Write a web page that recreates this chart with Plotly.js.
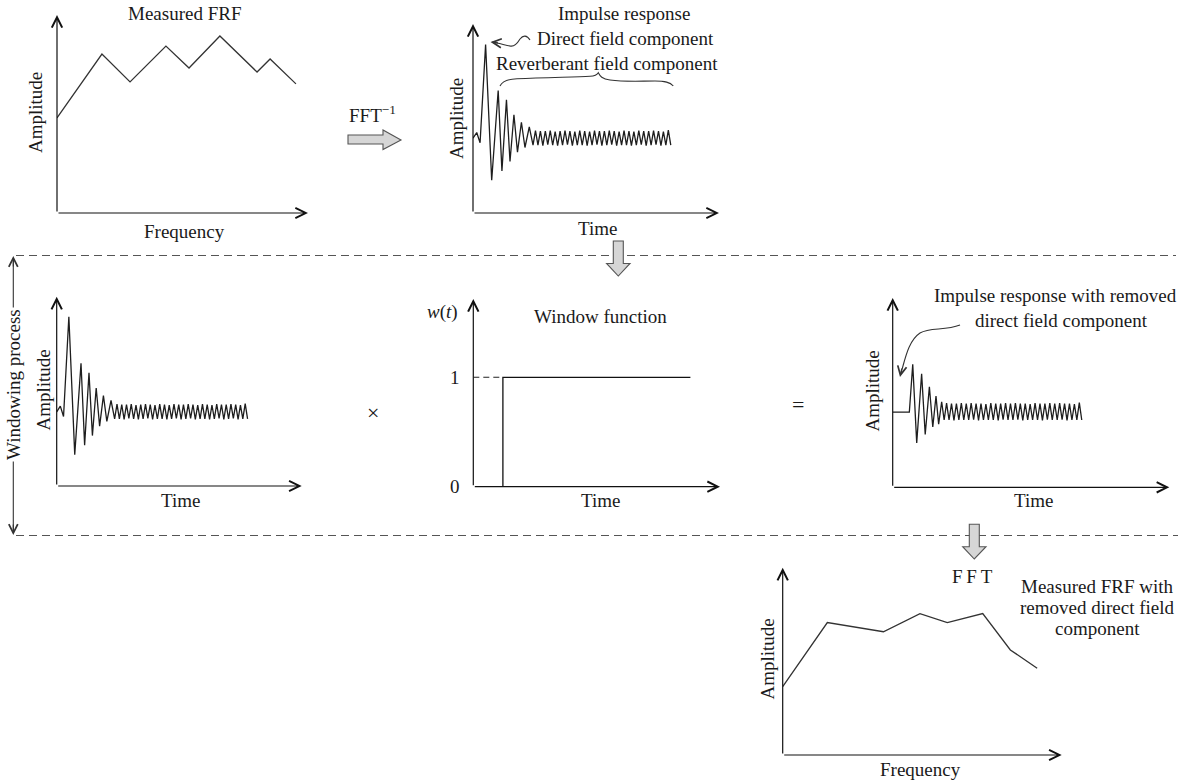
<!DOCTYPE html>
<html>
<head>
<meta charset="utf-8">
<script src="https://cdn.plot.ly/plotly-3.0.1.min.js"></script>
<style>html,body{margin:0;padding:0;background:#fff;}#chart{width:1183px;height:780px;}</style>
</head>
<body>
<div id="chart"></div>
<script>
// ---------- DATA ----------
// Panel 1: measured FRF
const frfFreq = [0, 17.9, 29.1, 43.4, 52.6, 64.9, 79.7, 84.9, 95.2];
const frfAmp  = [48, 80.3, 66.2, 84.3, 73.2, 89.4, 71.2, 77.8, 65.2];

// Impulse response: direct part + early decay
const irTime = [0, 1.9, 3.6, 6.4, 9.5, 12.8, 14.7, 17.0, 18.8, 20.8, 22.6, 24.6, 26.4, 28.6, 30.5];
const irAmp  = [0, 0.6, -0.5, 10, -4.5, 5.1, -3.5, 4.1, -2.5, 2.5, -1.5, 1.7, -1.0, 1.2, -0.75];
// Reverberant tail
const tailTime = [31.75,33,34.25,35.5,36.75,38,39.25,40.5,41.75,43,
  44.25,45.5,46.75,48,49.25,50.5,51.75,53,54.25,55.5,
  56.75,58,59.25,60.5,61.75,63,64.25,65.5,66.75,68,
  69.25,70.5,71.75,73,74.25,75.5,76.75,78,79.25,80.5,
  81.75,83,84.25,85.5,86.75,88,89.25,90.5,91.75,93,
  94.25,95.5,96.75,98,99.25,100.5];
const tailAmp = [0.8,-0.75,0.75,-0.8,0.75,-0.7,0.8,-0.75,0.7,-0.8,
  0.75,-0.75,0.8,-0.7,0.75,-0.8,0.7,-0.75,0.8,-0.75,
  0.75,-0.8,0.7,-0.75,0.8,-0.7,0.75,-0.8,0.75,-0.75,
  0.8,-0.7,0.75,-0.8,0.7,-0.75,0.8,-0.75,0.75,-0.8,
  0.7,-0.75,0.8,-0.7,0.75,-0.8,0.75,-0.75,0.8,-0.7,
  0.75,-0.8,0.7,-0.75,0.85,-0.75];

// Window function
const winTime = [0, 15, 15, 110];
const winVal  = [0, 0, 1, 1];

// Impulse response with removed direct field component
const remTime = [0, 8.8, 10.6, 12.7, 15.3, 17.2, 19.4, 21.2, 22.9, 24.3, 25.9];
const remAmp  = [0, 0, 5.1, -3.3, 4.1, -2.4, 2.7, -1.6, 1.7, -1.3, 1.1];
const remTailTime = [27.2,28.5,29.8,31.1,32.4,33.7,35,36.3,37.6,38.9,
  40.2,41.5,42.8,44.1,45.4,46.7,48,49.3,50.6,51.9,
  53.2,54.5,55.8,57.1,58.4,59.7,61,62.3,63.6,64.9,
  66.2,67.5,68.8,70.1,71.4,72.7,74,75.3,76.6,77.9,
  79.2,80.5,81.8,83.1,84.4,85.7,87,88.3,89.6,90.9,
  92.2,93.5,94.8,96.1,97.4,98.7,100];
const remTailAmp = [-0.85,0.95,-0.85,0.9,-0.9,0.9,-0.85,0.95,-0.85,0.9,
  -0.85,0.95,-0.8,0.9,-0.9,0.9,-0.85,0.85,-0.85,0.95,
  -0.85,0.9,-0.9,0.9,-0.8,0.95,-0.85,0.9,-0.85,0.95,
  -0.8,0.9,-0.9,0.9,-0.85,0.85,-0.85,0.95,-0.85,0.9,
  -0.9,0.9,-0.8,0.95,-0.85,0.9,-0.85,0.95,-0.8,0.9,
  -0.9,0.9,-0.85,0.85,-0.85,1.0,-0.85];

// Panel 6: FRF with removed direct field component
const frf2Freq = [0, 16.0, 36.1, 49.2, 59.0, 71.7, 81.6, 91.2];
const frf2Amp  = [36.5, 70.7, 65.8, 75.5, 70.7, 75.5, 56.1, 46.3];

// ---------- LAYOUT HELPERS ----------
const W = 1183, H = 780;
const FONT = 'Liberation Serif, Times New Roman, serif';
const TXT = '#1a1a1a';
const X = px => px / W;
const Y = py => 1 - py / H;
const P = s => s.replace(/(-?[\d.]+),(-?[\d.]+)/g, (m, a, b) => X(+a).toFixed(5) + ',' + Y(+b).toFixed(5));

// panel boxes in pixels: [left, right, bottom, top], ranges
const panels = [
  {box:[57,308,213,15],      xr:[0,100],   yr:[0,100]},
  {box:[473,719,213,24],     xr:[0,125],   yr:[-8,12.2]},
  {box:[56.7,301.7,486,296.7], xr:[0,129], yr:[-7.8,12.1]},
  {box:[473.3,720,486.7,299], xr:[0,125],  yr:[0,1.716]},
  {box:[892.7,1169.3,487.3,298], xr:[0,146.3], yr:[-8.05,12.2]},
  {box:[782.7,1061.7,755,567.7], xr:[0,100], yr:[0,100]}
];

const layout = {
  width: W, height: H,
  margin: {l:0, r:0, t:0, b:0},
  paper_bgcolor: '#fff', plot_bgcolor: 'rgba(0,0,0,0)',
  showlegend: false,
  annotations: [], shapes: []
};

panels.forEach((p, i) => {
  const n = i + 1;
  const xk = n === 1 ? 'xaxis' : 'xaxis' + n;
  const yk = n === 1 ? 'yaxis' : 'yaxis' + n;
  const xid = n === 1 ? 'x' : 'x' + n;
  const yid = n === 1 ? 'y' : 'y' + n;
  layout[xk] = {domain:[X(p.box[0]), X(p.box[1])], range:p.xr, anchor:yid,
    showline:false, showgrid:false, zeroline:false, showticklabels:false, ticks:'', fixedrange:true};
  layout[yk] = {domain:[Y(p.box[2]), Y(p.box[3])], range:p.yr, anchor:xid,
    showline:false, showgrid:false, zeroline:false, showticklabels:false, ticks:'', fixedrange:true};
  // axes with arrowheads
  const base = {xref:xid, yref:yid, axref:xid, ayref:yid, text:'', showarrow:true,
    arrowhead:5, arrowsize:1.7, arrowwidth:1.2, arrowcolor:'#111'};
  layout.annotations.push(Object.assign({}, base, {x:p.xr[1], y:p.yr[0], ax:p.xr[0], ay:p.yr[0]}));
  layout.annotations.push(Object.assign({}, base, {x:p.xr[0], y:p.yr[1], ax:p.xr[0], ay:p.yr[0]}));
});

// window panel tick labels 0 and 1
Object.assign(layout.yaxis4, {showticklabels:true, tickvals:[0,1], ticktext:['0','1'],
  ticks:'outside', ticklen:9, tickcolor:'rgba(0,0,0,0)', tickfont:{family:FONT, size:19, color:TXT}});

// ---------- TRACES ----------
const LINE = {color:'#1e1e1e', width:1.3};
const tr = (x, y, n, extra) => Object.assign({
  type:'scatter', mode:'lines', x, y,
  xaxis: n === 1 ? 'x' : 'x' + n, yaxis: n === 1 ? 'y' : 'y' + n,
  line: LINE, hoverinfo:'skip', cliponaxis:false
}, extra || {});

const traces = [
  tr(frfFreq, frfAmp, 1, {line:{color:'#333', width:1.3}}),
  tr(irTime.concat(tailTime), irAmp.concat(tailAmp), 2),
  tr(irTime.concat(tailTime), irAmp.concat(tailAmp), 3),
  tr([winTime[0], winTime[2]], [winVal[2], winVal[2]], 4, {line:{color:'#222', width:1.1, dash:'6px,4px'}}),
  tr(winTime.slice(1), winVal.slice(1), 4, {line:{color:'#111', width:1.3}}),
  tr(remTime.concat(remTailTime), remAmp.concat(remTailAmp), 5),
  tr(frf2Freq, frf2Amp, 6, {line:{color:'#333', width:1.3}})
];

// ---------- TEXT ----------
function T(text, px, py, o) {
  layout.annotations.push(Object.assign({
    text, x:X(px), y:Y(py), xref:'paper', yref:'paper', showarrow:false,
    xanchor:'center', yanchor:'middle', font:{family:FONT, size:19, color:TXT}
  }, o || {}));
}
T('Measured FRF', 184, 13);
T('Amplitude', 35, 113, {textangle:-90});
T('Frequency', 184, 231);
T('FFT<sup>−1</sup>', 372, 114);
T('Impulse response', 624, 13);
T('Direct field component', 625, 38);
T('Reverberant field component', 607, 63);
T('Amplitude', 456, 119, {textangle:-90});
T('Time', 597, 228);
T('Windowing process', 13, 385, {textangle:-90, bgcolor:'#fff'});
T('Amplitude', 42.5, 390, {textangle:-90});
T('Time', 180, 500);
T('×', 373, 412, {font:{family:FONT, size:22, color:TXT}});
T('<i>w</i>(<i>t</i>)', 442, 312);
T('Window function', 600, 316);
T('Time', 600, 500);
T('=', 798, 404, {font:{family:FONT, size:22, color:TXT}});
T('Impulse response with removed', 1055, 295);
T('direct field component', 1061, 320);
T('Amplitude', 871.5, 391, {textangle:-90});
T('Time', 1033, 500);
T('F\u2009F\u2009T', 972, 576);
T('Measured FRF with', 1097, 586);
T('removed direct field', 1097, 607);
T('component', 1097, 628);
T('Amplitude', 766.5, 659, {textangle:-90});
T('Frequency', 920, 769);

// ---------- DECORATION SHAPES ----------
const dashLine = (x0, x1, y) => ({type:'line', xref:'paper', yref:'paper',
  x0:X(x0), x1:X(x1), y0:Y(y), y1:Y(y), line:{color:'#555', width:1.1, dash:'8px,5px'}});
layout.shapes.push(dashLine(16, 1176, 255.5));
layout.shapes.push(dashLine(16, 1178, 535.5));
// windowing process vertical line
layout.shapes.push({type:'line', xref:'paper', yref:'paper', x0:X(13.3), x1:X(13.3), y0:Y(258), y1:Y(533),
  line:{color:'#333', width:1.1}, layer:'below'});
// block arrows
const block = {type:'path', xref:'paper', yref:'paper', fillcolor:'#d6d6d6', line:{color:'#555', width:1.1}};
layout.shapes.push(Object.assign({}, block, {path:P('M348,135 L383,135 L383,130 L401,140 L383,149.5 L383,144 L348,144 Z')}));
layout.shapes.push(Object.assign({}, block, {path:P('M613.3,241 L623.3,241 L623.3,263.5 L630,263.5 L618.3,276 L606.6,263.5 L613.3,263.5 Z')}));
layout.shapes.push(Object.assign({}, block, {path:P('M969.3,524.3 L979.3,524.3 L979.3,546.7 L986,546.7 L974.3,559 L962.7,546.7 L969.3,546.7 Z')}));
// curved pointer lines and brace
const curve = {type:'path', xref:'paper', yref:'paper', line:{color:'#333', width:1.1}};
layout.shapes.push(Object.assign({}, curve, {path:P('M530,40 C527,35 523,35 520,39 C517,44 514,47 510,46 C505,45 498,43 492,42')}));
layout.shapes.push(Object.assign({}, curve, {path:P('M500,86 C502,82 506,79 517,78.7 C545,77.5 575,77 590,76.3 C595,76 597,75 598.3,72.7 C600,76 602,79 610,80 C625,82 640,81 655,81 C665,81 670,82 673.3,86')}));
layout.shapes.push(Object.assign({}, curve, {path:P('M960,325 C945,331 930,327 920,333 C908,341 905,360 901,373')}));

// arrowheads for curved pointers and windowing arrow
const head = (px, py, ax, ay) => ({x:X(px), y:Y(py), xref:'paper', yref:'paper', text:'', showarrow:true,
  arrowhead:5, arrowsize:1.6, arrowwidth:1.1, arrowcolor:'#333', ax, ay});
layout.annotations.push(head(490.5, 42, 9, 1));
layout.annotations.push(head(900, 377, 2, -10));
layout.annotations.push(head(13.3, 256, 0, 12));
layout.annotations.push(head(13.3, 535, 0, -12));

Plotly.newPlot('chart', traces, layout, {displayModeBar:false, staticPlot:true});
</script>
</body>
</html>
